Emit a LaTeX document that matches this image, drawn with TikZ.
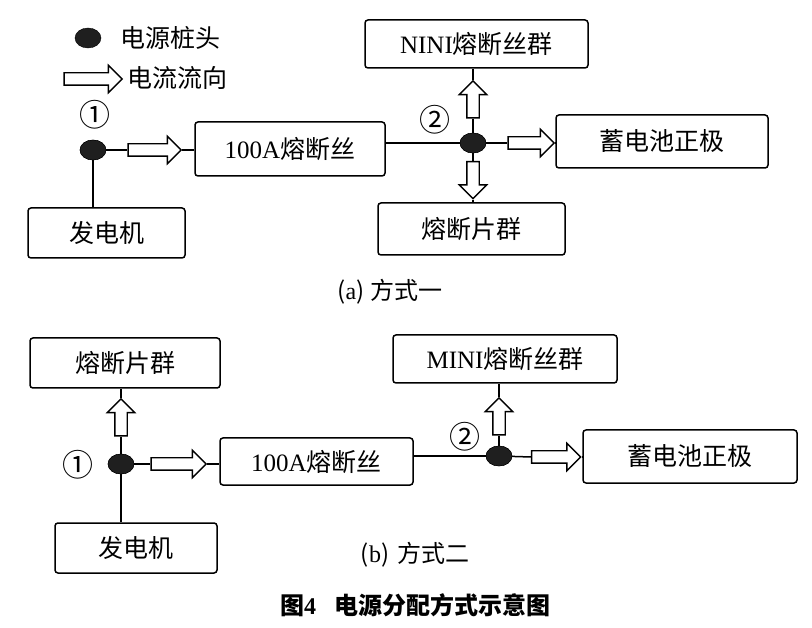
\documentclass[tikz,border=0pt]{standalone}
\usepackage{fontspec}
\usetikzlibrary{shapes.geometric,shapes.arrows}
\setmainfont{Liberation Serif}
\newfontfamily\cjk{Noto Sans CJK SC}
\newfontfamily\lat{Liberation Serif}
\tikzset{
  box/.style={draw, line width=1.5pt, rounded corners=3pt, inner sep=0pt,
    font=\cjk\fontsize{25}{25}\selectfont},
  conn/.style={line width=1.5pt},
  harrow/.style={single arrow, draw, fill=white, line width=1.4pt, inner xsep=0pt,
    inner ysep=5.5pt, single arrow head extend=7.5pt, single arrow tip angle=90,
    minimum height=#1, minimum width=0pt},
  blob/.style={ellipse, fill=black!88, draw=black, inner sep=0pt, minimum width=26pt, minimum height=20pt},
  lab/.style={font=\cjk\fontsize{25}{25}\selectfont, inner sep=0pt},
  num/.style={font=\cjk\fontsize{31}{31}\selectfont, inner sep=0pt}
}
\begin{document}
\begin{tikzpicture}[x=1pt,y=-1pt]
\useasboundingbox (0,0) rectangle (812,628);
% legend
\node[blob] (legblob) at (88,38) {};
\node[lab, anchor=west] (legtxt1) at (120,38) {电源桩头};
\node[harrow=58pt] (legarrow) at (90,79) {};
\node[lab, anchor=west] (legtxt2) at (127,78) {电流流向};
% ---------- (a) ----------
\node[num] (n1a) at (95,115) {①};
\node[blob] (blobA1) at (93,150) {};
\node[box, minimum width=157pt, minimum height=50pt] (genA) at (106.5,233) {发电机};
\node[box, minimum width=190pt, minimum height=54pt] (f100A) at (290,149) {{\lat 100A}熔断丝};
\node[num] (n2a) at (435,120) {②};
\node[blob] (blobA2) at (473,143) {};
\node[box, minimum width=223pt, minimum height=48pt] (nini) at (476.5,44) {{\lat NINI}熔断丝群};
\node[box, minimum width=187pt, minimum height=52pt] (pieceA) at (471.5,229) {熔断片群};
\node[box, minimum width=212pt, minimum height=53pt] (batA) at (662,141.5) {蓄电池正极};
\node[harrow=53pt] (arA1) at (151.5,150) {};
\node[harrow=37pt, rotate=90] (arA2) at (473,102.5) {};
\node[harrow=37pt, rotate=-90] (arA3) at (473,177) {};
\node[harrow=46pt] (arA4) at (528,143) {};
\draw[conn] (blobA1) -- (genA.north -| blobA1);
\draw[conn] (blobA1) -- (arA1.tail);
\draw[conn] (arA1.tip) -- (f100A.west |- arA1.tip);
\draw[conn] (f100A.east |- blobA2) -- (blobA2);
\draw[conn] (blobA2) -- (arA2.tail);
\draw[conn] (arA2.tip) -- (nini.south -| arA2.tip);
\draw[conn] (blobA2) -- (arA3.tail);
\draw[conn] (arA3.tip) -- (pieceA.north -| arA3.tip);
\draw[conn] (blobA2) -- (arA4.tail);
\draw[conn] (arA4.tip) -- (batA.west |- arA4.tip);
\node[blob] at (blobA1) {};
\node[blob] at (blobA2) {};
\node[font=\cjk\fontsize{24}{24}\selectfont] (capA) at (390,292) {({\lat a})\hspace{6pt}方式一};
% ---------- (b) ----------
\node[box, minimum width=190pt, minimum height=50pt] (pieceB) at (125,363) {熔断片群};
\node[num] (n1b) at (78,465) {①};
\node[blob] (blobB1) at (121,464) {};
\node[box, minimum width=162pt, minimum height=50pt] (genB) at (136,548) {发电机};
\node[box, minimum width=193pt, minimum height=47pt] (f100B) at (316.5,461.5) {{\lat 100A}熔断丝};
\node[num] (n2b) at (465,437) {②};
\node[blob] (blobB2) at (499,456) {};
\node[box, minimum width=224pt, minimum height=48pt] (mini) at (505,359) {{\lat MINI}熔断丝群};
\node[box, minimum width=214pt, minimum height=53pt] (batB) at (690,456.5) {蓄电池正极};
\node[harrow=37pt, rotate=90] (arB1) at (121,420.5) {};
\node[harrow=55pt] (arB2) at (175.5,464) {};
\node[harrow=37pt, rotate=90] (arB3) at (499,419.5) {};
\node[harrow=49pt] (arB4) at (553,457) {};
\draw[conn] (blobB1) -- (genB.north -| blobB1);
\draw[conn] (blobB1) -- (arB1.tail);
\draw[conn] (arB1.tip) -- (pieceB.south -| arB1.tip);
\draw[conn] (blobB1) -- (arB2.tail);
\draw[conn] (arB2.tip) -- (f100B.west |- arB2.tip);
\draw[conn] (f100B.east |- blobB2) -- (blobB2);
\draw[conn] (blobB2) -- (arB3.tail);
\draw[conn] (arB3.tip) -- (mini.south -| arB3.tip);
\draw[conn] (blobB2) -- (arB4.tail);
\draw[conn] (arB4.tip) -- (batB.west |- arB4.tip);
\node[blob] at (blobB1) {};
\node[blob] at (blobB2) {};
\node[font=\cjk\fontsize{24}{24}\selectfont] (capB) at (415,555) {({\lat b})\hspace{8pt}方式二};
\node[font=\cjk\bfseries\fontsize{24}{24}\selectfont] (title) at (415,605) {图{\lat\bfseries 4}\hspace{18pt}电源分配方式示意图};
\end{tikzpicture}
\end{document}
